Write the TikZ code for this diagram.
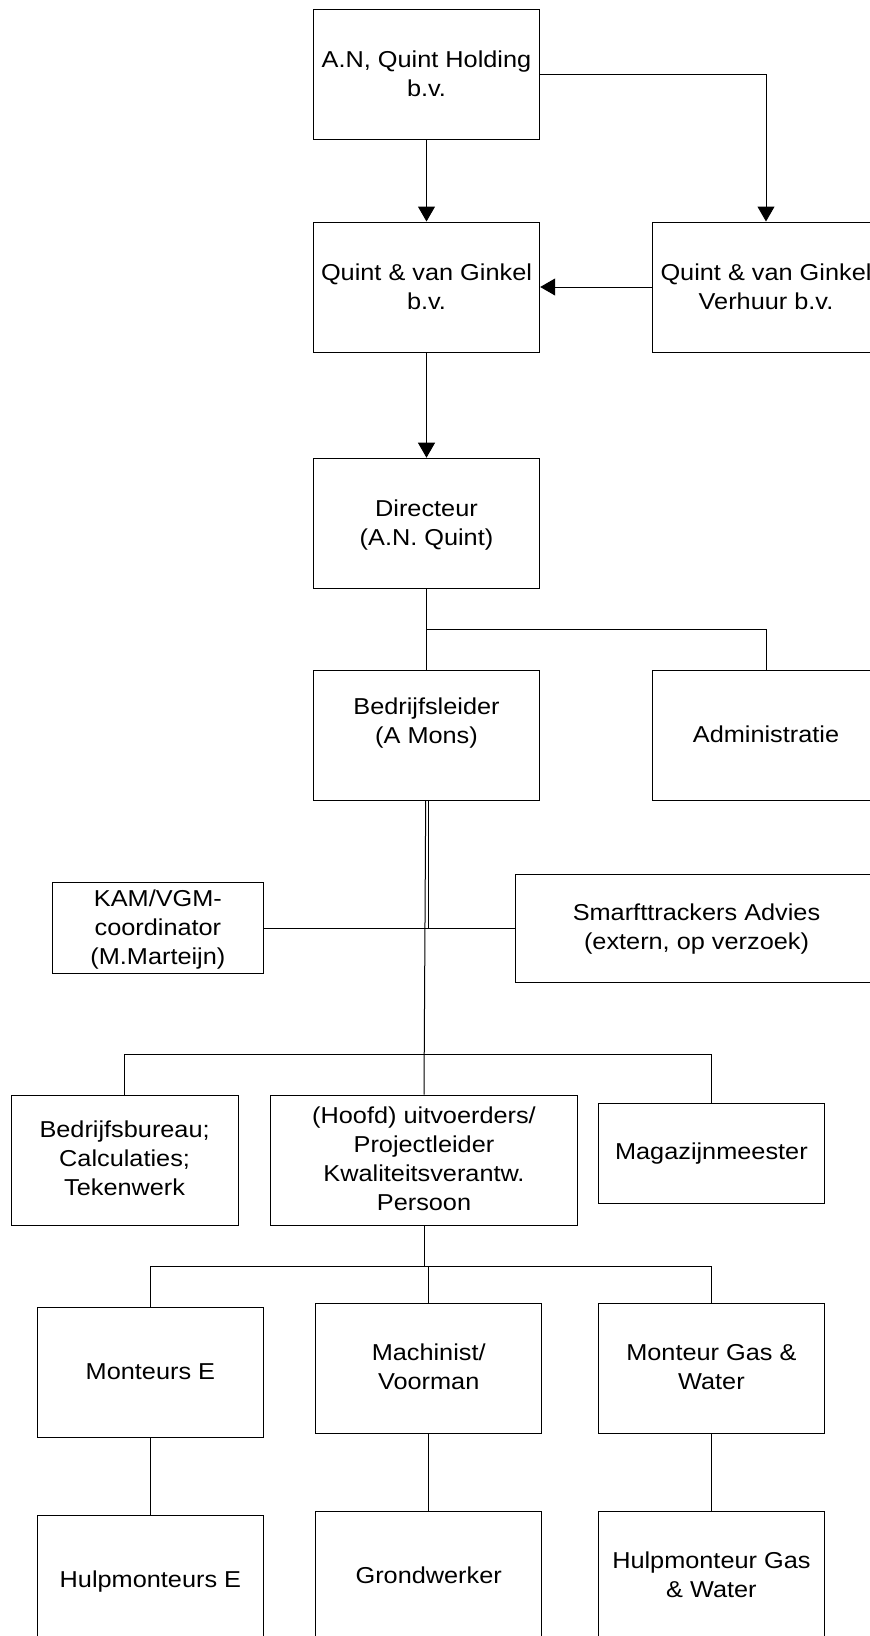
\documentclass[tikz,border=0pt]{standalone}
\usepackage{fontspec}
\setmainfont{Liberation Sans}[FakeStretch=1.1]
\usetikzlibrary{arrows.meta}
\newcommand{\ml}[1]{\begin{tabular}[t]{@{}c@{}}#1\end{tabular}}
\tikzset{
  box/.style={draw=black, line width=1pt, rectangle, inner sep=0pt},
  wbox/.style={box, minimum width=226.4pt, minimum height=130pt},
  txt/.style={anchor=base, inner sep=0pt, font=\fontsize{23}{29.3}\selectfont},
  conn/.style={draw=black, line width=1pt},
  arr/.style={conn, -{Triangle[length=15pt,width=17pt]}}
}
\begin{document}
\begin{tikzpicture}[x=1pt,y=-1pt]
\useasboundingbox (0,0) rectangle (870,1636);
\clip (0,0) rectangle (870,1636);
\fill[white] (0,0) rectangle (870,1636);
% boxes
\node[wbox] (hold) at (426.5,74.3) {};
\node[wbox] (qvg) at (426.5,287) {};
\node[wbox] (verh) at (766,287) {};
\node[wbox] (dir) at (426.5,523.2) {};
\node[wbox] (bl) at (426.5,735.2) {};
\node[wbox] (adm) at (766,735.2) {};
\node[box, minimum width=210.3pt, minimum height=91pt] (kam) at (157.9,928) {};
\node[box, minimum width=362pt, minimum height=108pt] (smart) at (696.5,928) {};
\node[box, minimum width=226.9pt, minimum height=130.3pt] (bb) at (124.6,1160.2) {};
\node[box, minimum width=307.4pt, minimum height=130.3pt] (hoofd) at (424,1160.2) {};
\node[box, minimum width=226.4pt, minimum height=100.4pt] (mag) at (711.4,1153.5) {};
\node[wbox] (me) at (150.4,1372.5) {};
\node[wbox] (mach) at (428.7,1368.3) {};
\node[wbox] (mgw) at (711.4,1368.3) {};
\node[wbox] (hme) at (150.4,1580.8) {};
\node[wbox] (grond) at (428.7,1576.3) {};
\node[wbox] (hgw) at (711.4,1576.3) {};
% texts
\node[txt] (t-hold) at (426.5,67) {\ml{A.N, Quint Holding\\b.v.}};
\node[txt] (t-qvg) at (426.5,280) {\ml{Quint \& van Ginkel\\b.v.}};
\node[txt] (t-verh) at (766,280) {\ml{Quint \& van Ginkel\\Verhuur b.v.}};
\node[txt] (t-dir) at (426.5,516) {\ml{Directeur\\(A.N. Quint)}};
\node[txt] (t-bl) at (426.5,714) {\ml{Bedrijfsleider\\(A Mons)}};
\node[txt] (t-adm) at (766,742.7) {Administratie};
\node[txt] (t-kam) at (157.9,906) {\ml{KAM/VGM-\\coordinator\\(M.Marteijn)}};
\node[txt] (t-smart) at (696.5,920) {\ml{Smarfttrackers Advies\\(extern, op verzoek)}};
\node[txt] (t-bb) at (124.6,1137) {\ml{Bedrijfsbureau;\\Calculaties;\\Tekenwerk}};
\node[txt] (t-hoofd) at (424,1123) {\ml{(Hoofd) uitvoerders/\\Projectleider\\Kwaliteitsverantw.\\Persoon}};
\node[txt] (t-mag) at (711.4,1159.5) {Magazijnmeester};
\node[txt] (t-me) at (150.4,1379) {Monteurs E};
\node[txt] (t-mach) at (428.7,1360) {\ml{Machinist/\\Voorman}};
\node[txt] (t-mgw) at (711.4,1360) {\ml{Monteur Gas \&\\Water}};
\node[txt] (t-hme) at (150.4,1587) {Hulpmonteurs E};
\node[txt] (t-grond) at (428.7,1583) {Grondwerker};
\node[txt] (t-hgw) at (711.4,1568) {\ml{Hulpmonteur Gas\\\& Water}};
% connectors
\draw[arr] (hold.south) -- (qvg.north);
\draw[arr] (hold.east) -| (verh.north);
\draw[arr] (verh.west) -- (qvg.east);
\draw[arr] (qvg.south) -- (dir.north);
\draw[conn] (dir.south) -- (bl.north);
\coordinate (j1) at (426.5,629.3);
\draw[conn] (j1) -| (adm.north);
\draw[conn] ([xshift=1.5pt]bl.south) -- ([xshift=1.5pt]bl.south |- kam.east);
\draw[conn] ([xshift=-0.8pt]bl.south) -- (hoofd.north);
\draw[conn] (kam.east) -- (smart.west);
\coordinate (j2) at (424,1054);
\draw[conn] (bb.north) |- (j2) -| (mag.north);
\coordinate (j3) at (424,1266.7);
\draw[conn] (hoofd.south) -- (j3);
\draw[conn] (me.north) |- (j3) -| (mgw.north);
\draw[conn] (mach.north) -- (mach.north |- j3);
\draw[conn] (me.south) -- (hme.north);
\draw[conn] (mach.south) -- (grond.north);
\draw[conn] (mgw.south) -- (hgw.north);
\end{tikzpicture}
\end{document}
